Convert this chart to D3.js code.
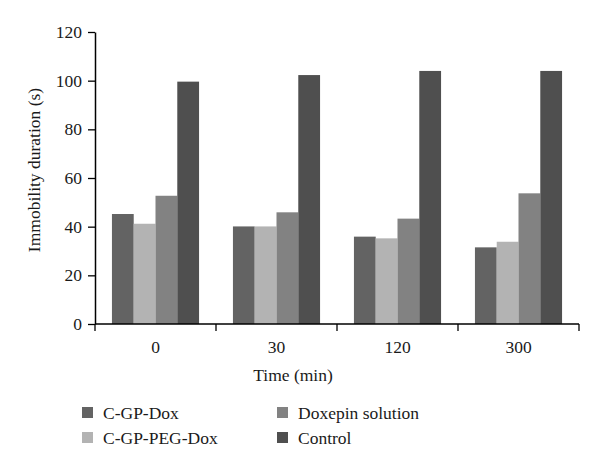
<!DOCTYPE html>
<html><head><meta charset="utf-8">
<script src="https://cdn.jsdelivr.net/npm/d3@7/dist/d3.min.js"></script>
<style>body{margin:0;background:#fff}svg{display:block}text{font-family:"Liberation Serif","DejaVu Serif",serif;fill:#1a1a1a}</style>
</head><body>
<script>
const times = ["0","30","120","300"];
const seriesNames = ["C-GP-Dox","C-GP-PEG-Dox","Doxepin solution","Control"];
const cgpDox = [45.2, 40.1, 35.9, 31.5];
const cgpPegDox = [41.2, 40.1, 35.2, 33.8];
const doxepin = [52.7, 45.9, 43.3, 53.7];
const control = [99.6, 102.3, 104.0, 104.0];
const yTicks = [0,20,40,60,80,100,120];
const colors = ["#636363","#b3b3b3","#828282","#4f4f4f"];
const values = [cgpDox, cgpPegDox, doxepin, control];

(function(){
const W=600,H=471;
const svg=d3.select("body").append("svg").attr("width",W).attr("height",H);
const mLeft=95,mRight=579,mTop=32,mBottom=324;
const x0=d3.scaleBand().domain(times).range([mLeft,mRight]).paddingInner(0.28).paddingOuter(0.14);
const x1=d3.scaleBand().domain(seriesNames).range([0,x0.bandwidth()]);
const y=d3.scaleLinear().domain([0,120]).range([mBottom,mTop]);

times.forEach((t,i)=>{
  seriesNames.forEach((s,j)=>{
    svg.append("rect").attr("x",x0(t)+x1(s)).attr("width",x1.bandwidth())
      .attr("y",y(values[j][i])).attr("height",y(0)-y(values[j][i])).attr("fill",colors[j]);
  });
});

const ya=svg.append("g").attr("transform",`translate(${mLeft},0)`)
  .call(d3.axisLeft(y).tickValues(yTicks).tickSize(7).tickPadding(6).tickSizeOuter(0));
ya.select(".domain").attr("stroke","#000").attr("stroke-width",1.5);
ya.selectAll(".tick line").attr("stroke","#000").attr("stroke-width",1.3);
ya.selectAll(".tick text").style("font-size","17.5px").attr("fill","#1a1a1a").style("font-family",'"Liberation Serif",serif');

const xa=svg.append("g").attr("transform",`translate(0,${mBottom})`);
xa.append("line").attr("x1",mLeft).attr("x2",mRight).attr("stroke","#000").attr("stroke-width",1.5);
const step=x0.step();
const bounds=[mLeft].concat(times.map(t=>x0(t)+x0.bandwidth()/2+step/2));
bounds.forEach(b=>xa.append("line").attr("x1",b).attr("x2",b).attr("y1",0).attr("y2",7).attr("stroke","#000").attr("stroke-width",1.3));
times.forEach(t=>xa.append("text").attr("x",x0(t)+x0.bandwidth()/2).attr("y",29).attr("text-anchor","middle").style("font-size","17.5px").text(t));

svg.append("text").attr("x",293).attr("y",381).attr("text-anchor","middle").style("font-size","17.5px").text("Time (min)");
svg.append("text").attr("transform","translate(40,170) rotate(-90)").attr("text-anchor","middle").style("font-size","17.5px").text("Immobility duration (s)");

const legPos=[[82,413],[82,438],[277,413],[277,438]];
seriesNames.forEach((s,j)=>{
  const [lx,ly]=legPos[j];
  svg.append("rect").attr("x",lx).attr("y",ly-6).attr("width",11).attr("height",11).attr("fill",colors[j]);
  svg.append("text").attr("x",lx+21).attr("y",ly+6).style("font-size","17.5px").text(s);
});
})();
</script>
</body></html>
